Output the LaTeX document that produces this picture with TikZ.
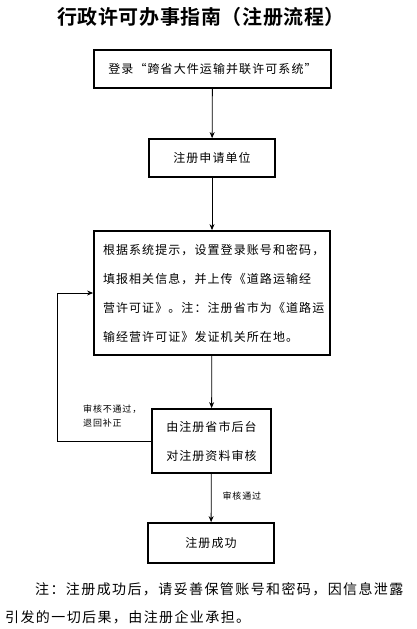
\documentclass[tikz,border=0pt]{standalone}
\usepackage{fontspec}
\setmainfont{Noto Sans CJK SC}
\newfontfamily\titlefont[LetterSpace=3]{Noto Sans CJK SC Bold}
\newfontfamily\boxfont[LetterSpace=9]{Noto Sans CJK SC}
\newfontfamily\notefont[LetterSpace=10]{Noto Sans CJK SC}
\usetikzlibrary{arrows.meta, positioning}
\tikzset{
  stepbox/.style   = {draw, line width=1.8pt, inner sep=0pt,
                      font=\boxfont\fontsize{12}{29}\selectfont},
  flow/.style      = {-{Stealth[length=6pt, width=5pt]}, line width=0.8pt},
  plain/.style     = {line width=0.8pt},
  smalllbl/.style  = {font=\boxfont\fontsize{9}{14}\selectfont, inner sep=0pt},
  titlelbl/.style  = {font=\titlefont\fontsize{20}{24}\selectfont},
}

\begin{document}
\begin{tikzpicture}[x=1pt, y=-1pt]
  \useasboundingbox (0,0) rectangle (417,629);

  \node[titlelbl] (title) at (201,17) {行政许可办事指南（注册流程）};

  % the five steps, top to bottom
  \node[stepbox, minimum width=237pt, minimum height=38pt] (login) at (212.5,69)
    {登录“跨省大件运输并联许可系统”};
  \node[stepbox, minimum width=126pt, minimum height=38pt] (apply) at (212,158)
    {注册申请单位};
  \node[stepbox, minimum width=236pt, minimum height=124pt,
        text width=218pt, align=left] (info) at (212,293)
    {根据系统提示，设置登录账号和密码，\\
     填报相关信息，并上传《道路运输经\\
     营许可证》。注：注册省市为《道路运\\
     输经营许可证》发证机关所在地。};
  \node[stepbox, minimum width=119pt, minimum height=64pt, align=center] (check) at (211.5,441)
    {由注册省市后台\\对注册资料审核};
  \node[stepbox, minimum width=126pt, minimum height=40pt] (done) at (211,543)
    {注册成功};

  \draw[flow] (login) -- (apply);
  \draw[flow] (apply) -- (info);
  \draw[flow] (info) -- (check);
  \draw[flow] (check) -- (done) node[smalllbl, pos=0.45, right=11pt] (passlbl) {审核通过};

  % rejected: back to the data entry step
  \coordinate (loopcorner) at (57,441);
  \draw[plain] (check.west) -- (loopcorner);
  \draw[flow] (loopcorner) |- (info.west);
  \node[smalllbl, anchor=north west, align=left] (faillbl) at (83,405)
    {审核不通过，\\退回补正};

  \node[anchor=north west, inner sep=0pt, align=left,
        font=\notefont\fontsize{14}{28}\selectfont] (note) at (5,582)
    {\hspace{30pt}注：注册成功后，请妥善保管账号和密码，因信息泄露\\
     引发的一切后果，由注册企业承担。};
\end{tikzpicture}
\end{document}
